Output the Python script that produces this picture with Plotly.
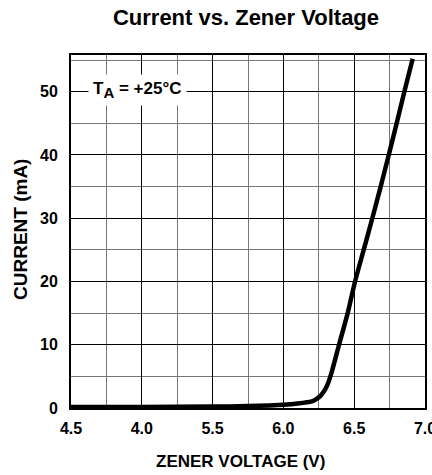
import plotly.graph_objects as go

voltage = [4.5, 5.0, 5.5, 5.75, 5.9, 6.0, 6.1, 6.2, 6.235, 6.265, 6.294, 6.315, 6.34,
           6.393, 6.454, 6.506, 6.567, 6.628, 6.687, 6.744, 6.80, 6.854, 6.913]
current = [0.15, 0.17, 0.22, 0.3, 0.4, 0.5, 0.7, 1.05, 1.45, 2.0, 2.9, 3.9, 5.6,
           10.0, 15.0, 20.0, 25.0, 30.0, 35.0, 40.0, 45.0, 50.0, 55.2]

x_tickvals = [4.5, 5.0, 5.5, 6.0, 6.5, 7.0]
x_ticktext = ["4.5", "4.0", "5.5", "6.0", "6.5", "7.0"]
y_tickvals = [0, 10, 20, 30, 40, 50]
y_ticktext = ["0", "10", "20", "30", "40", "50"]

FONT = "Liberation Sans, Arial, sans-serif"

W, H = 432, 475
L, R, T, B = 71, 7, 55, 67
PW, PH = W - L - R, H - T - B

fig = go.Figure()
fig.add_trace(go.Scatter(
    x=voltage, y=current, mode="lines",
    line=dict(color="black", width=4.5, shape="spline", smoothing=0.6),
    showlegend=False, hoverinfo="skip",
))

fig.update_layout(
    width=W, height=H, autosize=False,
    margin=dict(l=L, r=R, t=T, b=B, autoexpand=False),
    paper_bgcolor="white", plot_bgcolor="white",
    font=dict(family=FONT, color="black", size=16, weight="bold"),
    title=dict(text="Current vs. Zener Voltage", x=246/W, xanchor="center",
               y=1-17/H, yanchor="middle",
               font=dict(family=FONT, size=22, color="black", weight="bold")),
    xaxis=dict(
        range=[4.5, 7.0], tickvals=x_tickvals, ticktext=x_ticktext,
        showgrid=True, gridcolor="black", gridwidth=1,
        minor=dict(dtick=0.25, tick0=4.5, showgrid=True, gridcolor="#777777", gridwidth=1, ticklen=0),
        showline=True, linecolor="black", linewidth=2, mirror=True,
        ticks="", ticklabelstandoff=5, zeroline=False, ticklabeloverflow="allow",
        automargin=False,
        tickfont=dict(family=FONT, size=16, weight="bold"),
    ),
    yaxis=dict(
        range=[0, 55.8], tickvals=y_tickvals, ticktext=y_ticktext,
        showgrid=True, gridcolor="black", gridwidth=1,
        minor=dict(dtick=5, tick0=0, showgrid=True, gridcolor="#777777", gridwidth=1, ticklen=0),
        showline=True, linecolor="black", linewidth=2, mirror=True,
        ticks="", zeroline=False, ticklabelstandoff=8, automargin=False,
        tickfont=dict(family=FONT, size=16, weight="bold"),
    ),
    annotations=[
        dict(text="ZENER VOLTAGE (V)", xref="paper", yref="paper",
             x=(240-L)/PW, y=-(461-(H-B))/PH, xanchor="center", yanchor="middle",
             showarrow=False, font=dict(family=FONT, size=17, weight="bold")),
        dict(text="CURRENT (mA)", xref="paper", yref="paper",
             x=-(L-20)/PW, y=((H-B)-230)/PH, xanchor="center", yanchor="middle", textangle=-90,
             showarrow=False, font=dict(family=FONT, size=19, weight="bold")),
        dict(text="T<sub><span style='font-size:15px'>A</span></sub> = +25°C", xref="x", yref="y",
             x=4.97, y=50.3, xanchor="center", yanchor="middle",
             showarrow=False, bgcolor="white", borderpad=4,
             font=dict(family=FONT, size=17, weight="bold")),
    ],
)

page_fix = (
    "document.documentElement.style.overflow='hidden';"
    "document.body.style.margin='0';"
    "document.body.style.overflow='hidden';"
    "var gd=document.getElementById('{plot_id}');"
    "Plotly.relayout(gd,{width:%d,height:%d});" % (W, H)
)

fig.write_html("out.html", post_script=page_fix,
               config={"displayModeBar": False, "responsive": False})
